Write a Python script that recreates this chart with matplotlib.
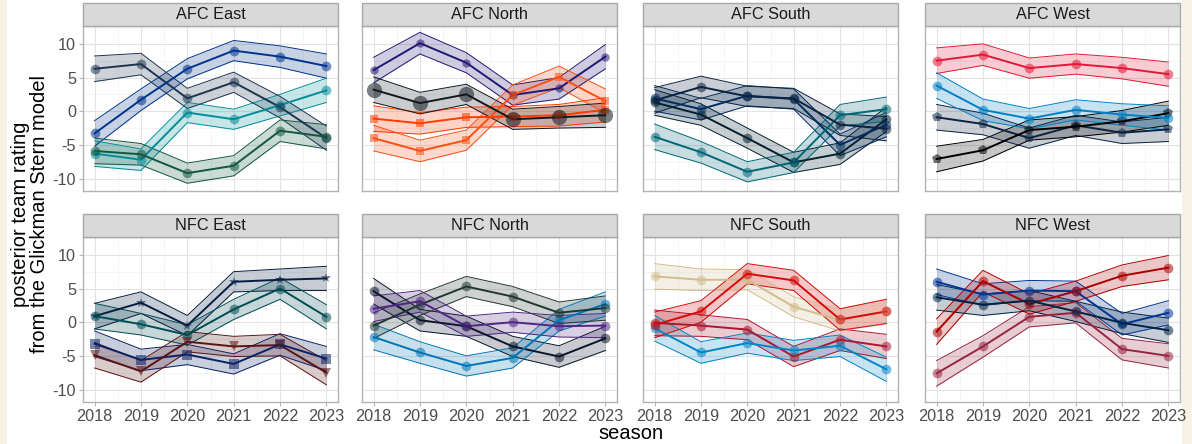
import matplotlib
matplotlib.use("Agg")
import matplotlib.pyplot as plt
from matplotlib.patches import Rectangle

plt.rcParams['font.family'] = ['Liberation Sans', 'DejaVu Sans']
plt.rcParams['axes.unicode_minus'] = False

seasons = [2018, 2019, 2020, 2021, 2022, 2023]
band_halfwidth = [1.9, 1.6, 1.5, 1.5, 1.6, 1.8]

divisions = ["AFC East", "AFC North", "AFC South", "AFC West",
             "NFC East", "NFC North", "NFC South", "NFC West"]

# ---- ratings per team (posterior means) ----
# AFC East
BUF = [-3.3, 1.7, 6.3, 9.0, 8.1, 6.7]
MIA = [-6.3, -7.2, -0.2, -1.2, 0.9, 3.1]
NE = [6.3, 7.0, 1.9, 4.3, 0.6, -4.0]
NYJ = [-5.9, -6.4, -9.2, -8.1, -2.9, -3.8]
# AFC North
BAL = [6.1, 10.1, 7.2, 2.4, 3.4, 8.1]
CIN = [-4.0, -5.9, -4.3, 2.4, 5.1, 1.5]
CLE = [-1.1, -1.8, -0.9, -0.8, -0.6, 0.2]
PIT = [3.2, 1.2, 2.5, -1.2, -0.9, -0.6]
# AFC South
HOU = [1.3, -0.5, -4.0, -7.6, -6.3, -1.2]
IND = [1.9, 0.3, 2.3, 1.8, -5.0, -2.0]
JAX = [-3.8, -6.1, -9.0, -7.6, -0.6, 0.3]
TEN = [1.6, 3.6, 2.2, 1.9, -2.0, -2.6]
# AFC West
DEN = [-0.9, -1.9, -4.0, -2.1, -3.2, -2.7]
KC = [7.5, 8.4, 6.4, 7.0, 6.4, 5.5]
LV = [-7.1, -5.8, -2.8, -2.3, -1.5, -0.3]
LAC = [3.8, 0.2, -1.1, 0.2, -0.5, -1.0]
# NFC East
DAL = [0.9, 2.9, -0.5, 6.0, 6.3, 6.5]
NYG = [-3.2, -5.6, -4.8, -6.2, -3.3, -5.4]
PHI = [0.9, -0.3, -1.9, 1.9, 5.0, 0.8]
WAS = [-4.9, -7.3, -2.9, -3.6, -3.4, -7.5]
# NFC North
CHI = [4.6, 0.3, -0.6, -3.6, -5.1, -2.4]
DET = [-2.2, -4.5, -6.5, -5.3, 0.3, 2.7]
GB = [-0.5, 2.6, 5.3, 3.8, 1.4, 2.1]
MIN = [2.0, 3.1, -0.6, 0.0, -0.6, -0.5]
# NFC South
ATL = [-0.1, -0.5, -1.1, -5.1, -2.6, -3.6]
CAR = [-0.9, -4.5, -3.1, -4.2, -3.5, -7.0]
NO = [6.8, 6.3, 6.3, 2.3, 0.3, 1.6]
TB = [-0.4, 1.6, 7.2, 6.2, 0.4, 1.6]
# NFC West
ARI = [-7.6, -3.6, 0.8, 1.4, -4.0, -5.0]
LAR = [6.0, 4.1, 4.7, 4.6, -0.3, 1.4]
SF = [-1.4, 6.1, 2.7, 4.6, 6.9, 8.1]
SEA = [3.7, 2.6, 3.2, 1.6, -0.1, -1.2]

division_teams = {
    "AFC East": [BUF, MIA, NE, NYJ],
    "AFC North": [BAL, CIN, CLE, PIT],
    "AFC South": [HOU, IND, JAX, TEN],
    "AFC West": [DEN, KC, LV, LAC],
    "NFC East": [DAL, NYG, PHI, WAS],
    "NFC North": [CHI, DET, GB, MIN],
    "NFC South": [ATL, CAR, NO, TB],
    "NFC West": [ARI, LAR, SF, SEA],
}
division_colors = {
    "AFC East": ["#00338D", "#008E97", "#1C3550", "#125740"],
    "AFC North": ["#241773", "#FB4F14", "#FF3C00", "#101820"],
    "AFC South": ["#03202F", "#002C5F", "#006778", "#0C2340"],
    "AFC West": ["#0A2343", "#E31837", "#000000", "#0080C6"],
    "NFC East": ["#041E42", "#0B2265", "#004C54", "#5A1414"],
    "NFC North": ["#0B162A", "#0076B6", "#203731", "#4F2683"],
    "NFC South": ["#A71930", "#0085CA", "#D3BC8D", "#D50A0A"],
    "NFC West": ["#97233F", "#003594", "#AA0000", "#002244"],
}
division_markers = {
    "AFC East": ["o", "o", "o", "o"],
    "AFC North": ["o", "s", "s", "o"],
    "AFC South": ["o", "o", "o", "o"],
    "AFC West": ["p", "o", "p", "o"],
    "NFC East": ["*", "s", "o", "v"],
    "NFC North": ["o", "o", "o", "o"],
    "NFC South": ["o", "o", "o", "o"],
    "NFC West": ["o", "o", "o", "o"],
}
division_msize = {
    "AFC North": [6, 6, 6, 11],
}

W, H = 1192, 444
fig = plt.figure(figsize=(W / 100, H / 100), dpi=100)
fig.patch.set_facecolor("white")
# cream side bands
fig.add_artist(Rectangle((0, 0), 7 / W, 1, transform=fig.transFigure,
                         fc="#f6f3e6", ec="none", zorder=-10))
fig.add_artist(Rectangle((1182 / W, 0), 1 - 1182 / W, 1, transform=fig.transFigure,
                         fc="#f6f3e6", ec="none", zorder=-10))

lefts = [83, 362, 643, 925]
pw = 255
tops = [26, 237]
ph = 165
strip_h = 23

for i, div in enumerate(divisions):
    r, c = divmod(i, 4)
    ax = fig.add_axes([lefts[c] / W, 1 - (tops[r] + ph) / H, pw / W, ph / H])
    ax.set_xlim(2017.75, 2023.25)
    ax.set_ylim(-11.85, 12.65)
    ax.set_xticks(seasons)
    ax.set_xticks([2018.5, 2019.5, 2020.5, 2021.5, 2022.5], minor=True)
    ax.set_yticks([-10, -5, 0, 5, 10])
    ax.set_yticks([-7.5, -2.5, 2.5, 7.5], minor=True)
    ax.grid(True, which="major", color="#e3e3e3", lw=0.8)
    ax.grid(True, which="minor", color="#f1f1f1", lw=0.5)
    ax.set_axisbelow(True)
    for s in ax.spines.values():
        s.set_color("#b3b3b3")
        s.set_linewidth(1.0)
    ax.tick_params(which="minor", length=0)
    ax.tick_params(which="major", length=3, color="#b3b3b3",
                   labelsize=11.7, labelcolor="#4d4d4d", pad=2)
    if c == 0:
        ax.set_yticklabels(["-10", "-5", "0", "5", "10"])
    else:
        ax.tick_params(axis="y", length=0, labelleft=False)
    if r == 1:
        ax.set_xticklabels([str(s) for s in seasons])
    else:
        ax.tick_params(axis="x", length=0, labelbottom=False)

    teams = division_teams[div]
    cols = division_colors[div]
    marks = division_markers[div]
    sizes = division_msize.get(div, [7, 7, 7, 7])
    for vals, col in zip(teams, cols):
        lo = [v - h for v, h in zip(vals, band_halfwidth)]
        hi = [v + h for v, h in zip(vals, band_halfwidth)]
        ax.fill_between(seasons, lo, hi, color=col, alpha=0.22, lw=0, zorder=2)
        ax.plot(seasons, lo, color=col, lw=0.7, zorder=2.5)
        ax.plot(seasons, hi, color=col, lw=0.7, zorder=2.5)
    for vals, col in zip(teams, cols):
        ax.plot(seasons, vals, color=col, lw=1.4, zorder=3)
    for vals, col, mk, ms in zip(teams, cols, marks, sizes):
        ax.plot(seasons, vals, ls="none", marker=mk, ms=ms, color=col,
                alpha=0.55, mew=0, zorder=4)

    ax.add_patch(Rectangle((0, 1), 1, strip_h / ph, transform=ax.transAxes,
                           clip_on=False, fc="#d9d9d9", ec="#a8a8a8", lw=1.0,
                           zorder=5))
    ax.text(0.5, 1 + strip_h / ph / 2, div, transform=ax.transAxes,
            ha="center", va="center", fontsize=11.7, color="#1a1a1a", zorder=6)

fig.text(30 / W, 1 - 214 / H, "posterior team rating\nfrom the Glickman Stern model",
         rotation=90, ha="center", va="center", fontsize=14.5, linespacing=0.95,
         multialignment="center", color="black")
fig.text(631 / W, 1 - 433 / H, "season", ha="center", va="center",
         fontsize=14.5, color="black")

fig.savefig("out.png", dpi=100, facecolor=fig.get_facecolor())
